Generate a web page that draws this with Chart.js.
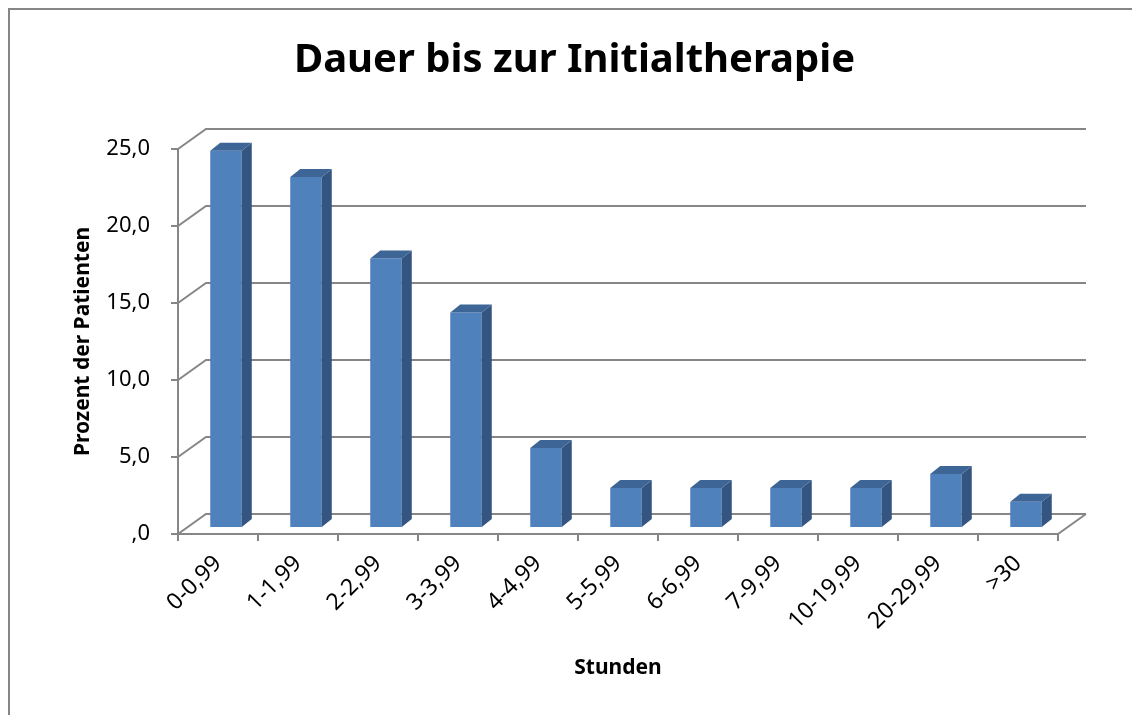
<!DOCTYPE html>
<html>
	<head>
		<meta charset="utf-8">
		<title>Dauer bis zur Initialtherapie</title>
		<script src="https://cdn.jsdelivr.net/npm/chart.js"></script>
		<style>
			html, body {
				margin: 0;
				padding: 0;
				background: #fff;
				overflow: hidden;
			}

			#frame {
				position: absolute;
				left: 8px;
				top: 8px;
				width: 1200px;
				height: 800px;
				border-left: 2px solid #868686;
				border-top: 2px solid #868686;
			}

			#box {
				position: absolute;
				left: 0;
				top: 0;
				width: 1132px;
				height: 715px;
			}
		</style>
	</head>
	<body>
		<div id="frame"></div>
		<div id="box">
			<canvas id="chart"></canvas>
		</div>
		<script>
			// Daten
			const categories = ['0-0,99', '1-1,99', '2-2,99', '3-3,99', '4-4,99', '5-5,99', '6-6,99', '7-9,99', '10-19,99', '20-29,99', '>30'];
			const values = [24.5, 22.8, 17.5, 14.0, 5.2, 2.6, 2.6, 2.6, 2.6, 3.5, 1.7];
			const yTickLabels = [',0', '5,0', '10,0', '15,0', '20,0', '25,0'];

			const lineColor = '#868686';
			const frontColor = '#4F81BD';
			const sideColor = '#34557F';
			const topColor = '#3D6596';
			const font = 'Noto Sans';

			// 3D-Effekt: Rückwand, Seitenwand, Balkenseiten
			const depth3d = {
				id: 'depth3d',
				beforeDatasetsDraw(chart) {
					const ctx = chart.ctx;
					const a = chart.chartArea;
					const y = chart.scales.y;
					ctx.save();
					ctx.strokeStyle = lineColor;
					ctx.lineWidth = 2;
					ctx.beginPath();
					y.ticks.forEach(t => {
						const py = y.getPixelForValue(t.value);
						ctx.moveTo(a.left, py);
						ctx.lineTo(a.left + 28, py - 20);
						ctx.lineTo(a.right + 28, py - 20);
					});
					ctx.moveTo(a.right, a.bottom);
					ctx.lineTo(a.right + 28, a.bottom - 20);
					ctx.stroke();
					ctx.restore();
					ctx.save();
					ctx.translate(8, -6);
				},
				afterDatasetsDraw(chart) {
					const ctx = chart.ctx;
					chart.getDatasetMeta(0).data.forEach(bar => {
						const p = bar.getProps(['x', 'y', 'base', 'width'], true);
						const l = p.x - p.width / 2;
						const r = p.x + p.width / 2;
						ctx.fillStyle = sideColor;
						ctx.beginPath();
						ctx.moveTo(r, p.y);
						ctx.lineTo(r + 10, p.y - 8);
						ctx.lineTo(r + 10, p.base - 8);
						ctx.lineTo(r, p.base);
						ctx.closePath();
						ctx.fill();
						ctx.fillStyle = topColor;
						ctx.beginPath();
						ctx.moveTo(l, p.y);
						ctx.lineTo(l + 10, p.y - 8);
						ctx.lineTo(r + 10, p.y - 8);
						ctx.lineTo(r, p.y);
						ctx.closePath();
						ctx.fill();
					});
					ctx.restore();
				}
			};

			new Chart(document.getElementById('chart'), {
				type: 'bar',
				data: {
					labels: categories,
					datasets: [{
						data: values,
						backgroundColor: frontColor,
						borderWidth: 0,
						categoryPercentage: 1.0,
						barPercentage: 0.394
					}]
				},
				options: {
					responsive: true,
					maintainAspectRatio: false,
					animation: false,
					layout: {
						padding: { left: 91, right: 74, top: 0, bottom: 0 }
					},
					plugins: {
						legend: { display: false },
						tooltip: { enabled: false },
						title: {
							display: true,
							text: 'Dauer bis zur Initialtherapie',
							color: '#000',
							font: { family: font, size: 40, weight: 'bold' },
							padding: { top: 37, bottom: 64 }
						}
					},
					scales: {
						x: {
							afterFit: s => { s.height = 181; },
							grid: {
								drawOnChartArea: false,
								tickLength: 7,
								color: lineColor,
								lineWidth: 2
							},
							border: { color: lineColor, width: 2 },
							ticks: {
								color: '#000',
								font: { family: font, size: 23 },
								minRotation: 45,
								maxRotation: 45,
								autoSkip: false,
								padding: 9
							},
							title: {
								display: true,
								text: 'Stunden',
								color: '#000',
								font: { family: font, size: 21, weight: 'bold' },
								padding: { top: 0, bottom: 34 }
							}
						},
						y: {
							min: 0,
							max: 25,
							afterFit: s => { s.width = 87; },
							grid: {
								drawOnChartArea: false,
								tickLength: 7,
								color: lineColor,
								lineWidth: 2
							},
							border: { color: lineColor, width: 2 },
							ticks: {
								stepSize: 5,
								color: '#000',
								font: { family: font, size: 22 },
								padding: 21,
								callback: (v, i) => yTickLabels[i]
							},
							title: {
								display: true,
								text: 'Prozent der Patienten',
								color: '#000',
								font: { family: font, size: 21, weight: 'bold' },
								padding: { top: -21, bottom: 0 }
							}
						}
					}
				},
				plugins: [depth3d]
			});
		</script>
	</body>
</html>
